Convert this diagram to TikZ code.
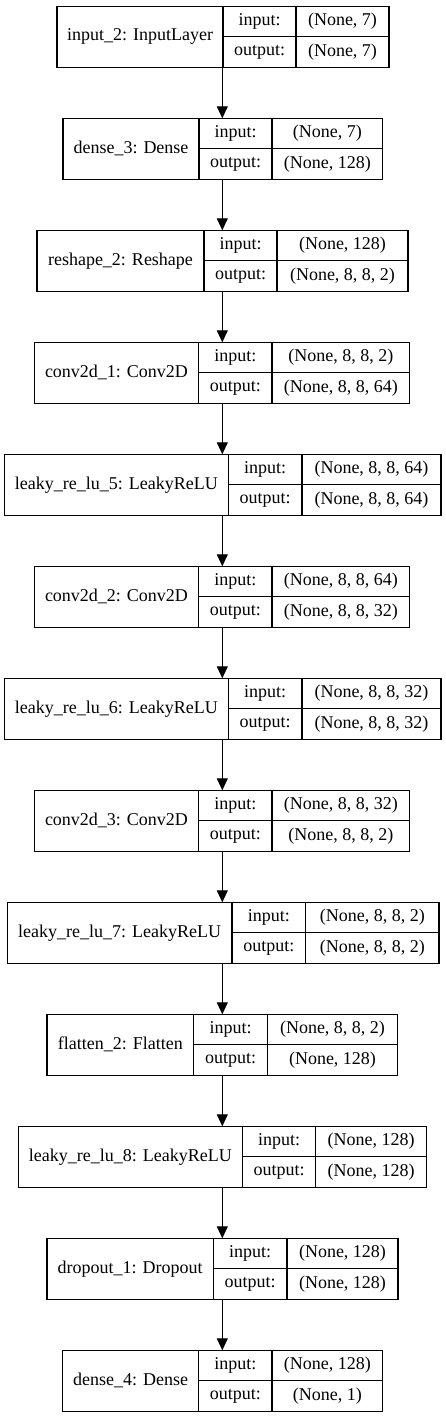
\documentclass[tikz,border=0pt]{standalone}
\usepackage{fontspec}
\setmainfont{Liberation Serif}
\usetikzlibrary{arrows.meta}
\tikzset{
  cell/.style={draw, line width=1.1pt, inner sep=0pt, outer sep=0pt, font=\fontsize{18}{20}\selectfont},
  conn/.style={line width=1.1pt, -{Triangle[length=12pt,width=11pt]}},
}
% #1 id, #2 top, #3 left, #4 divider1, #5 divider2, #6 right, #7 name, #8 input, #9 output
\newcommand\kerasLayer[9]{%
  \node[cell, minimum width={(#6-#3)*1pt}, minimum height=61pt] (#1) at ({(#3+#6)/2},{#2+30.5}) {};
  \node[cell, minimum width={(#4-#3)*1pt}, minimum height=61pt] (#1n) at ({(#3+#4)/2},{#2+30.5}) {#7};
  \node[cell, minimum width={(#5-#4)*1pt}, minimum height=30.5pt] (#1il) at ({(#4+#5)/2},{#2+15.25}) {input:};
  \node[cell, minimum width={(#6-#5)*1pt}, minimum height=30.5pt] (#1iv) at ({(#5+#6)/2},{#2+15.25}) {#8};
  \node[cell, minimum width={(#5-#4)*1pt}, minimum height=30.5pt] (#1ol) at ({(#4+#5)/2},{#2+45.75}) {output:};
  \node[cell, minimum width={(#6-#5)*1pt}, minimum height=30.5pt] (#1ov) at ({(#5+#6)/2},{#2+45.75}) {#9};
}
\begin{document}
\begin{tikzpicture}[x=1pt,y=-1pt]
\useasboundingbox[fill=white] (0,0) rectangle (445,1419);
\coordinate (ax) at (222.3,0);
\kerasLayer{l1}{6.3}{57}{223}{296}{389}{input\_2: InputLayer}{(None, 7)}{(None, 7)}
\kerasLayer{l2}{118.3}{63}{199}{272}{382.7}{dense\_3: Dense}{(None, 7)}{(None, 128)}
\kerasLayer{l3}{230.3}{37}{204}{277}{408}{reshape\_2: Reshape}{(None, 128)}{(None, 8, 8, 2)}
\kerasLayer{l4}{342.3}{34.3}{198.7}{272}{409.7}{conv2d\_1: Conv2D}{(None, 8, 8, 2)}{(None, 8, 8, 64)}
\kerasLayer{l5}{454.3}{4.3}{228.3}{302}{441}{leaky\_re\_lu\_5: LeakyReLU}{(None, 8, 8, 64)}{(None, 8, 8, 64)}
\kerasLayer{l6}{566.3}{34.3}{198.7}{272}{409.7}{conv2d\_2: Conv2D}{(None, 8, 8, 64)}{(None, 8, 8, 32)}
\kerasLayer{l7}{678.3}{4.3}{228.3}{302}{441}{leaky\_re\_lu\_6: LeakyReLU}{(None, 8, 8, 32)}{(None, 8, 8, 32)}
\kerasLayer{l8}{790.3}{34.3}{198.7}{272}{409.7}{conv2d\_3: Conv2D}{(None, 8, 8, 32)}{(None, 8, 8, 2)}
\kerasLayer{l9}{902.3}{7.3}{232}{305.7}{439}{leaky\_re\_lu\_7: LeakyReLU}{(None, 8, 8, 2)}{(None, 8, 8, 2)}
\kerasLayer{l10}{1014.3}{47}{193.7}{267.3}{397.7}{flatten\_2: Flatten}{(None, 8, 8, 2)}{(None, 128)}
\kerasLayer{l11}{1126.3}{18.3}{242.3}{315.7}{426.7}{leaky\_re\_lu\_8: LeakyReLU}{(None, 128)}{(None, 128)}
\kerasLayer{l12}{1238.3}{47}{213.3}{287}{398}{dropout\_1: Dropout}{(None, 128)}{(None, 128)}
\kerasLayer{l13}{1350.3}{62.7}{198.7}{272}{382.7}{dense\_4: Dense}{(None, 128)}{(None, 1)}
\foreach \a/\b in {l1/l2,l2/l3,l3/l4,l4/l5,l5/l6,l6/l7,l7/l8,l8/l9,l9/l10,l10/l11,l11/l12,l12/l13}
  \draw[conn] (\a.south -| ax) -- (\b.north -| ax);
\end{tikzpicture}
\end{document}
